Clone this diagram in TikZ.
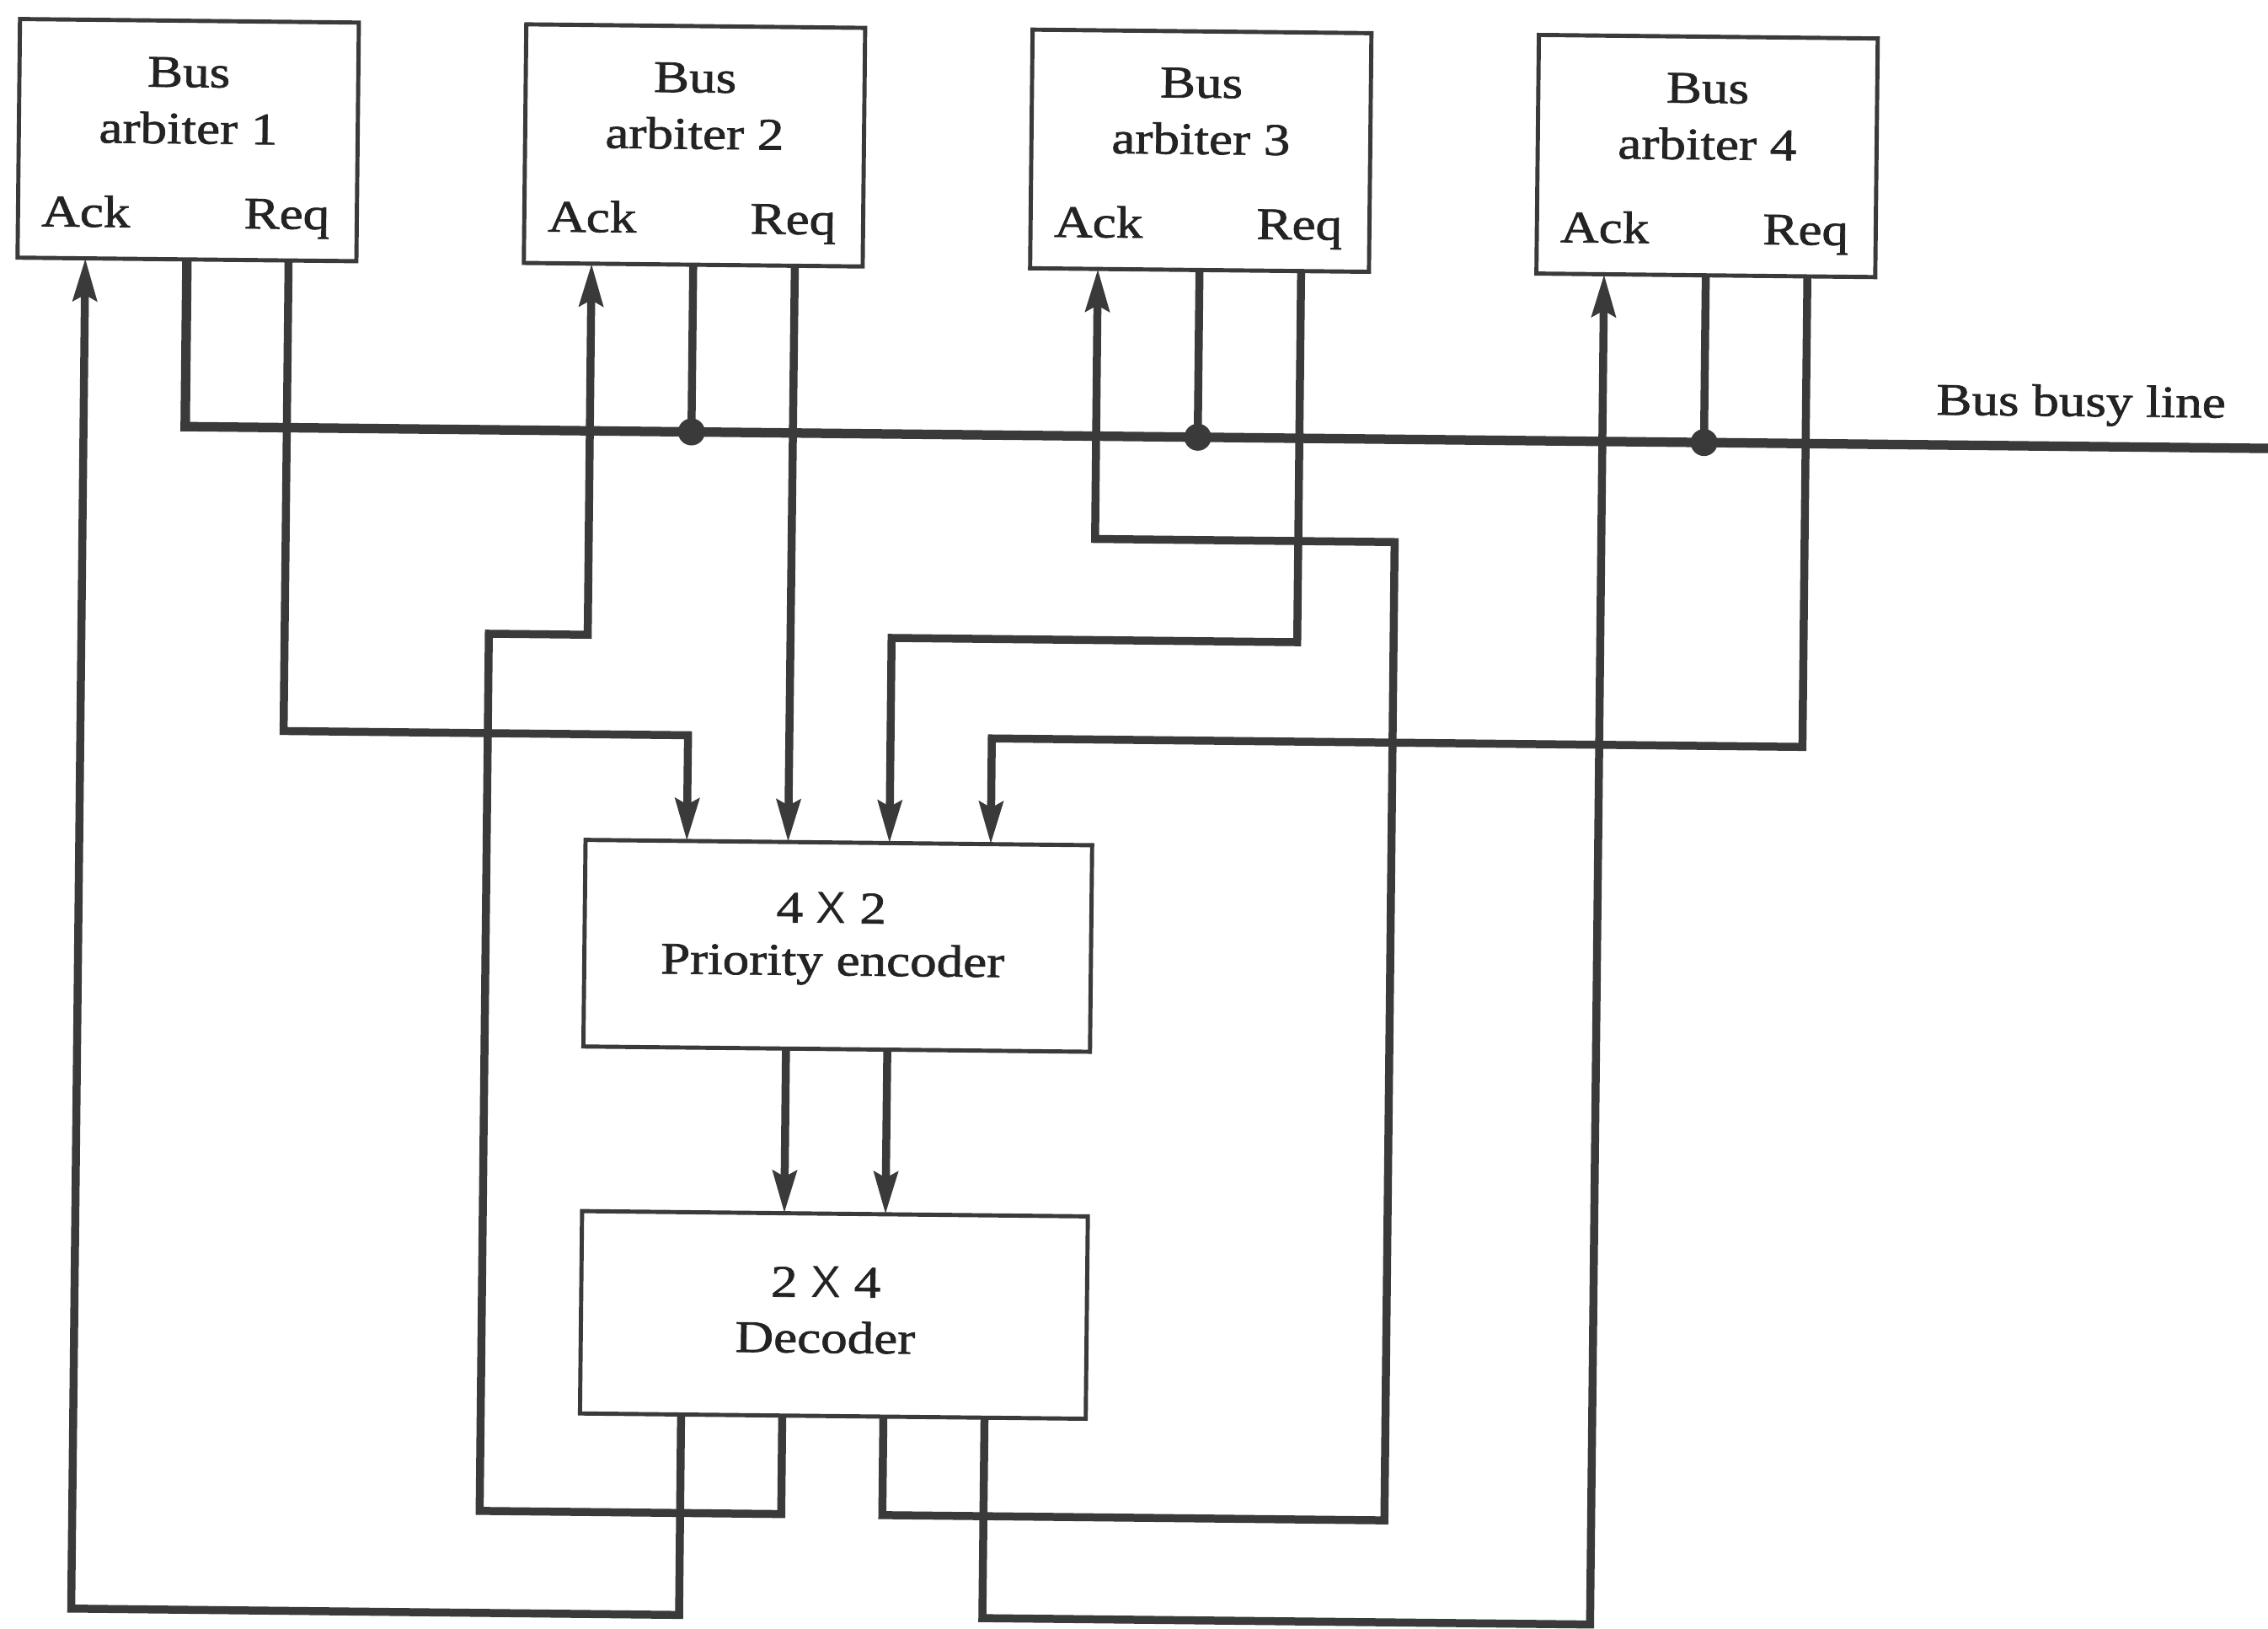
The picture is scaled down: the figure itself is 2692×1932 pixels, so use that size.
\documentclass[tikz,border=0pt]{standalone}
\usepackage{fontspec}
\setmainfont{Liberation Serif}[FakeStretch=1.18, FakeBold=1.4]
\newfontfamily\xfont{Liberation Sans}
\usetikzlibrary{arrows.meta,calc}
\definecolor{ink}{RGB}{35,35,35}
\definecolor{wirec}{RGB}{58,58,58}
\newcommand{\tX}{{\xfont X}}
\begin{document}
\begin{tikzpicture}[x=0.01cm,y=-0.01cm,
  box/.style={draw=wirec, line width=1.4pt, inner sep=0pt, outer sep=0pt, fill=white},
  arb/.style={box, minimum width=4.02cm, minimum height=2.83cm},
  blk/.style={box, minimum width=6.01cm, minimum height=2.45cm},
  txt/.style={anchor=base, inner sep=0pt, outer sep=0pt, text=ink, font=\fontsize{15.2}{18}\selectfont},
  wire/.style={draw=wirec, line width=2.7pt},
  arrw/.style={wire, -{Stealth[length=5mm,width=2.8mm,inset=0.7mm]}},
  busw/.style={draw=wirec, line width=3.2pt},
  dot/.style={circle, fill=wirec, inner sep=0pt, outer sep=0pt, minimum size=0.32cm}
]
\useasboundingbox (0,0) rectangle (2692,1932);
\fill[white] (0,0) rectangle (2692,1932);
\begin{scope}[rotate around={-0.6:(1346,966)}, transform shape]
  % arbiters
  \foreach \i/\cx in {1/215,2/816,3/1417,4/2018}{
    \node[arb] (a\i) at (\cx,178) {};
    \node[txt] (ab\i) at (\cx,115) {Bus};
    \node[txt] (an\i) at (\cx,182) {arbiter \i};
    \node[txt] (ak\i) at (\cx-120.6,282) {Ack};
    \node[txt] (aq\i) at (\cx+118,282) {Req};
    \coordinate (ack\i) at ($(a\i.south west)!0.2!(a\i.south east)$);
    \coordinate (req\i) at ($(a\i.south west)!0.8!(a\i.south east)$);
  }
  % encoder and decoder
  \node[blk] (enc) at (996,1126) {};
  \node[txt] (enct) at (988,1099) {4 \tX\ 2};
  \node[txt] (encb) at (990,1161) {Priority encoder};
  \node[blk, minimum width=6.0cm, minimum height=2.40cm] (dec) at (996,1564) {};
  \node[txt] (dect) at (986,1543) {2 \tX\ 4};
  \node[txt] (decb) at (986,1609) {Decoder};
  \foreach \k/\f in {1/0.2,2/0.4,3/0.6,4/0.8}{
    \coordinate (ei\k) at ($(enc.north west)!\f!(enc.north east)$);
    \coordinate (eo\k) at ($(enc.south west)!\f!(enc.south east)$);
    \coordinate (dt\k) at ($(dec.north west)!\f!(dec.north east)$);
    \coordinate (do\k) at ($(dec.south west)!\f!(dec.south east)$);
  }
  % bus busy line
  \coordinate (j1) at (215,518);
  \coordinate (busend) at (2700,518);
  \node[txt] (bbl) at (2465,482) {Bus busy line};
  \draw[busw] (a1.south) -- (j1) -- (busend);
  \foreach \i/\cx in {2/816,3/1417,4/2018}{
    \node[dot] (j\i) at (\cx,518) {};
    \draw[wire] (a\i.south) -- (j\i.center);
  }
  % request lines
  \coordinate (r1a) at (335.6,878);
  \coordinate (r1b) at (815.7,878);
  \coordinate (r3a) at (1537.6,760);
  \coordinate (r3b) at (1056.1,760);
  \coordinate (r4a) at (2138.6,878);
  \coordinate (r4b) at (1176.3,878);
  \draw[arrw] (req1) -- (r1a) -- (r1b) -- (ei1);
  \draw[arrw] (req2) -- (ei2);
  \draw[arrw] (req3) -- (r3a) -- (r3b) -- (ei3);
  \draw[arrw] (req4) -- (r4a) -- (r4b) -- (ei4);
  % encoder to decoder
  \draw[arrw] (eo2) -- (dt2);
  \draw[arrw] (eo3) -- (dt3);
  % acknowledge lines
  \coordinate (k1a) at (816,1922);
  \coordinate (k1b) at (94.4,1922);
  \coordinate (k2a) at (936,1801);
  \coordinate (k2b) at (578,1801);
  \coordinate (k2c) at (578,760);
  \coordinate (k2d) at (695.4,760);
  \coordinate (k3a) at (1056,1801);
  \coordinate (k3b) at (1652,1801);
  \coordinate (k3c) at (1652,640);
  \coordinate (k3d) at (1296.4,640);
  \coordinate (k4a) at (1176,1922);
  \coordinate (k4b) at (1897.4,1922);
  \draw[arrw] (do1) -- (k1a) -- (k1b) -- (ack1);
  \draw[arrw] (do2) -- (k2a) -- (k2b) -- (k2c) -- (k2d) -- (ack2);
  \draw[arrw] (do3) -- (k3a) -- (k3b) -- (k3c) -- (k3d) -- (ack3);
  \draw[arrw] (do4) -- (k4a) -- (k4b) -- (ack4);
\end{scope}
\end{tikzpicture}
\end{document}
